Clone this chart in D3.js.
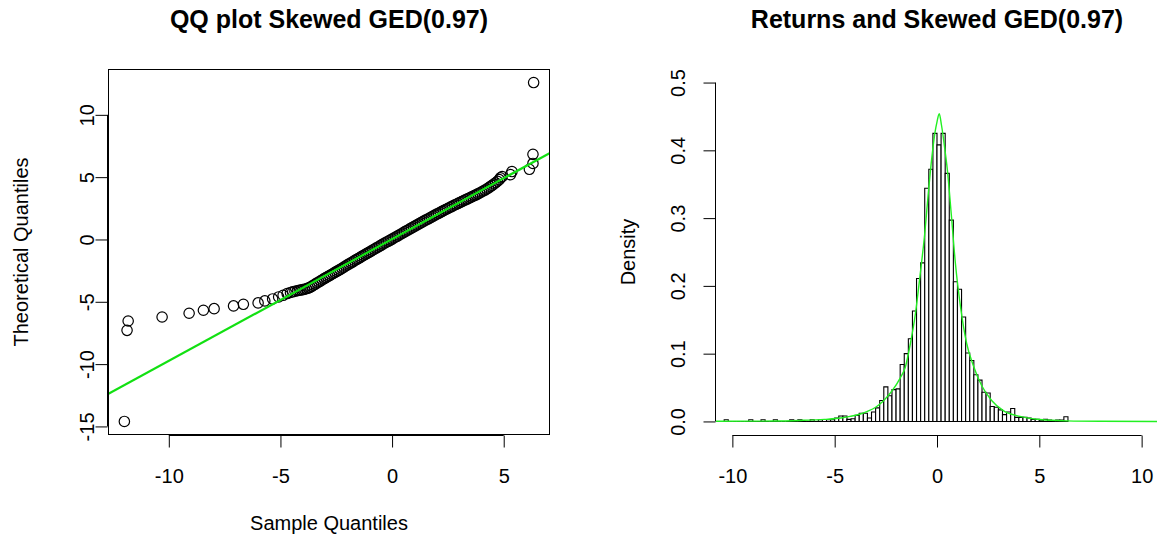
<!DOCTYPE html>
<html><head><meta charset="utf-8">
<script src="https://cdn.jsdelivr.net/npm/d3@7"></script>
<style>
body{margin:0;background:#fff}
svg{display:block}
text{font-family:"Liberation Sans",Arial,Helvetica,sans-serif;fill:#000}
</style>
</head><body>
<svg id="c" width="1157" height="539"></svg>
<script>
// ---------------- data ----------------
const sampleQ = [-11.99,-11.87,-11.82,-10.3,-9.09,-8.45,-7.97,-7.1,-6.66,-6.0,-5.7,-5.35,-5.08,-4.88,-4.7,-4.55,-4.45,-4.35,
-4.24,-4.16,-4.08,-4.00,-3.92,-3.84,-3.76,-3.68,-3.60,-3.52,-3.44,-3.36,-3.28,-3.20,-3.12,-3.04,-2.96,-2.88,-2.80,-2.72,-2.64,-2.56,-2.48,-2.40,-2.32,-2.24,-2.16,-2.08,-2.00,-1.92,-1.84,-1.76,-1.68,-1.60,-1.52,-1.44,-1.36,-1.28,-1.20,-1.12,-1.04,-0.96,-0.88,-0.80,-0.72,-0.64,-0.56,-0.48,-0.40,-0.32,-0.24,-0.16,-0.08,0.00,0.08,0.16,0.24,0.32,0.40,0.48,0.56,0.64,0.72,0.80,0.88,0.96,1.04,1.12,1.20,1.28,1.36,1.44,1.52,1.60,1.68,1.76,1.84,1.92,2.00,2.08,2.16,2.24,2.32,2.40,2.48,2.56,2.64,2.72,2.80,2.88,2.96,3.04,3.12,3.20,3.28,3.36,3.44,3.52,3.60,3.68,3.76,3.84,3.92,4.00,4.08,4.16,4.24,4.32,4.40,4.48,4.56,4.64,4.72,
4.80,4.85,4.93,5.30,5.37,6.15,6.31,6.31,6.34];
const theoQ = [-14.6,-7.29,-6.54,-6.22,-5.92,-5.68,-5.55,-5.33,-5.2,-5.09,-4.93,-4.77,-4.61,-4.48,-4.34,-4.25,-4.2,-4.15,
-4.11,-4.07,-4.05,-4.02,-3.99,-3.95,-3.90,-3.84,-3.76,-3.67,-3.58,-3.49,-3.41,-3.32,-3.23,-3.14,-3.06,-2.97,-2.90,-2.81,-2.73,-2.64,-2.56,-2.48,-2.40,-2.31,-2.22,-2.13,-2.04,-1.96,-1.87,-1.79,-1.70,-1.61,-1.54,-1.45,-1.36,-1.28,-1.19,-1.11,-1.03,-0.95,-0.86,-0.78,-0.69,-0.62,-0.53,-0.45,-0.36,-0.28,-0.20,-0.13,-0.05,0.03,0.12,0.20,0.27,0.36,0.44,0.52,0.61,0.69,0.76,0.85,0.93,1.01,1.09,1.17,1.25,1.33,1.41,1.49,1.57,1.64,1.72,1.80,1.88,1.96,2.03,2.10,2.18,2.26,2.33,2.41,2.47,2.55,2.62,2.69,2.77,2.83,2.90,2.97,3.04,3.11,3.18,3.24,3.31,3.38,3.45,3.52,3.58,3.66,3.73,3.81,3.89,3.96,4.05,4.14,4.24,4.34,4.45,4.55,4.67,
4.80,4.95,5.05,5.20,5.45,5.63,6.10,6.83,12.59];
const qqIntercept = 0.03;
const qqSlope = 0.977;

const binWidth = 0.2;
const binLeft = [-12.0,-11.8,-11.6,-11.4,-11.2,-11.0,-10.8,-10.6,-10.4,-10.2,-10.0,-9.8,-9.6,-9.4,-9.2,-9.0,-8.8,-8.6,-8.4,-8.2,
-8.0,-7.8,-7.6,-7.4,-7.2,-7.0,-6.8,-6.6,-6.4,-6.2,-6.0,-5.8,-5.6,-5.4,-5.2,-5.0,-4.8,-4.6,-4.4,-4.2,
-4.0,-3.8,-3.6,-3.4,-3.2,-3.0,-2.8,-2.6,-2.4,-2.2,-2.0,-1.8,-1.6,-1.4,-1.2,-1.0,-0.8,-0.6,-0.4,-0.2,
0.0,0.2,0.4,0.6,0.8,1.0,1.2,1.4,1.6,1.8,2.0,2.2,2.4,2.6,2.8,3.0,3.2,3.4,3.6,3.8,
4.0,4.2,4.4,4.6,4.8,5.0,5.2,5.4,5.6,5.8,6.0,6.2];
const density = [0.007,0,0,0,0,0,0,0,0.0024,0,0,0,0,0,0.0024,0,0,0.0024,0,0,
0.0024,0,0,0,0.0024,0,0.0024,0,0,0.0024,0,0.0024,0,0.0024,0.0024,0.005,0.008,0.008,0.003,0.004,
0.009,0.012,0.012,0.005,0.014,0.020,0.031,0.051,0.038,0.047,0.048,0.084,0.100,0.122,0.163,0.211,0.234,0.344,0.372,0.425,
0.408,0.425,0.366,0.297,0.206,0.195,0.154,0.101,0.090,0.069,0.061,0.043,0.042,0.022,0.021,0.017,0.010,0.014,0.019,0.006,
0.006,0.006,0.005,0.003,0.003,0.002,0.003,0.002,0,0.002,0.002,0.007];

const curveX = [-10.8,-8.0,-6.7,-5.5,-4.7,-4.25,-3.75,-3.4,-3.0,-2.6,-2.2,-1.8,-1.55,-1.3,-1.05,-0.83,-0.6,-0.4,-0.25,-0.1,0.0,0.11,0.22,0.39,0.5,0.7,0.9,1.15,1.45,1.77,2.18,2.67,3.24,4.05,5.03,6.34,8.0,10.8];
const curveY = [0.0002,0.0006,0.0015,0.003,0.005,0.0075,0.011,0.015,0.021,0.031,0.045,0.064,0.08,0.115,0.16,0.215,0.277,0.345,0.39,0.426,0.442,0.454,0.437,0.4,0.373,0.305,0.233,0.169,0.115,0.083,0.053,0.031,0.016,0.0074,0.0028,0.0008,0.0002,0.0];

const qqXTicks = [-10,-5,0,5];
const qqYTicks = [-15,-10,-5,0,5,10];
const histXTicks = [-10,-5,0,5,10];
const histYTicks = [0,0.1,0.2,0.3,0.4,0.5];
const qqTitle = "QQ plot Skewed GED(0.97)";
const histTitle = "Returns and Skewed GED(0.97)";
const qqXLab = "Sample Quantiles";
const qqYLab = "Theoretical Quantiles";
const histYLab = "Density";

// ---------------- layout ----------------
const svg = d3.select("#c");
const PL = {x0:108, x1:550, y0:69, y1:435};
const PR = {x0:716, x1:1158, y0:69, y1:435};
const ext = (a,b) => { const r=b-a; return [a-0.04*r, b+0.04*r]; };
const FONT = 20, TITLE = 25, TICK = 12;
const intFmt = d => String(d);            // plain hyphen-minus, as in R
const decFmt = d => d.toFixed(1);

const xL = d3.scaleLinear().domain(ext(d3.min(sampleQ), d3.max(sampleQ))).range([PL.x0, PL.x1]);
const yL = d3.scaleLinear().domain(ext(d3.min(theoQ), d3.max(theoQ))).range([PL.y1, PL.y0]);
const xR = d3.scaleLinear().domain(ext(-10,10)).range([PR.x0, PR.x1]);
const yR = d3.scaleLinear().domain(ext(0,0.5)).range([PR.y1, PR.y0]);

const defs = svg.append("defs");
defs.append("clipPath").attr("id","clipL").append("rect")
  .attr("x",PL.x0).attr("y",PL.y0).attr("width",PL.x1-PL.x0).attr("height",PL.y1-PL.y0);
defs.append("clipPath").attr("id","clipR").append("rect")
  .attr("x",PR.x0).attr("y",PR.y0).attr("width",PR.x1-PR.x0).attr("height",PR.y1-PR.y0);

function bottomAxis(x, P, ticks, fmt){
  const g = svg.append("g").attr("transform",`translate(0,${P.y1+0.5})`)
    .call(d3.axisBottom(x).tickValues(ticks).tickSize(TICK).tickFormat(fmt));
  g.select(".domain").remove();
  g.append("line").attr("x1",x(ticks[0])).attr("x2",x(ticks[ticks.length-1]))
    .attr("stroke","#000");
  g.selectAll(".tick line").attr("stroke","#000");
  g.selectAll(".tick text").attr("y",47).attr("dy",null)
    .style("font-size",FONT+"px");
  g.attr("font-family",null).attr("font-size",null);
}
function leftAxis(y, P, ticks, fmt, off){
  const g = svg.append("g").attr("transform",`translate(${P.x0-0.5},0)`)
    .call(d3.axisLeft(y).tickValues(ticks).tickSize(TICK).tickFormat(fmt));
  g.select(".domain").remove();
  g.append("line").attr("y1",y(ticks[0])).attr("y2",y(ticks[ticks.length-1]))
    .attr("stroke","#000");
  g.selectAll(".tick line").attr("stroke","#000");
  g.selectAll(".tick text").attr("x",null).attr("dy","0.35em")
    .attr("text-anchor","middle")
    .attr("transform",`translate(${-off},0) rotate(-90)`)
    .style("font-size",FONT+"px");
  g.attr("font-family",null).attr("font-size",null);
}

// ---------------- left: QQ plot ----------------
svg.append("g").attr("clip-path","url(#clipL)")
  .selectAll("circle").data(d3.range(Math.min(sampleQ.length, theoQ.length)))
  .join("circle")
  .attr("cx", i => xL(sampleQ[i])).attr("cy", i => yL(theoQ[i]))
  .attr("r",5.2).attr("fill","none").attr("stroke","#000").attr("stroke-width",1.2);

const [lx0, lx1] = xL.domain();
svg.append("line").attr("clip-path","url(#clipL)")
  .attr("x1",xL(lx0)).attr("y1",yL(qqIntercept+qqSlope*lx0))
  .attr("x2",xL(lx1)).attr("y2",yL(qqIntercept+qqSlope*lx1))
  .attr("stroke","#12e012").attr("stroke-width",2.2);

svg.append("rect").attr("x",PL.x0+0.5).attr("y",PL.y0+0.5)
  .attr("width",PL.x1-PL.x0-1).attr("height",PL.y1-PL.y0-1)
  .attr("fill","none").attr("stroke","#000");

bottomAxis(xL, PL, qqXTicks, intFmt);
leftAxis(yL, PL, qqYTicks, intFmt, 21);

svg.append("text").attr("x",(PL.x0+PL.x1)/2).attr("y",28).attr("text-anchor","middle")
  .style("font-size",TITLE+"px").style("font-weight","bold").text(qqTitle);
svg.append("text").attr("x",(PL.x0+PL.x1)/2).attr("y",530).attr("text-anchor","middle")
  .style("font-size",FONT+"px").text(qqXLab);
svg.append("text").attr("transform",`translate(${PL.x0-87},${(PL.y0+PL.y1)/2}) rotate(-90)`)
  .attr("dy","0.35em").attr("text-anchor","middle")
  .style("font-size",FONT+"px").text(qqYLab);

// ---------------- right: histogram + density ----------------
svg.append("g").attr("clip-path","url(#clipR)")
  .selectAll("path").data(d3.range(binLeft.length)).join("path")
  .attr("d", i => {
    const a = xR(binLeft[i]), b = xR(binLeft[i]+binWidth), y0 = yR(0), y1 = yR(density[i]);
    return `M${a},${y0}V${y1}H${b}V${y0}Z`;
  })
  .attr("fill","#fff").attr("stroke","#000").attr("stroke-width",1.1);

svg.append("path").attr("clip-path","url(#clipR)")
  .datum(d3.range(curveX.length))
  .attr("d", d3.line().x(i => xR(curveX[i])).y(i => yR(curveY[i])).curve(d3.curveMonotoneX))
  .attr("fill","none").attr("stroke","#22f022").attr("stroke-width",1.4);

bottomAxis(xR, PR, histXTicks, intFmt);
leftAxis(yR, PR, histYTicks, decFmt, 38);

svg.append("text").attr("x",(PR.x0+PR.x1)/2).attr("y",28).attr("text-anchor","middle")
  .style("font-size",TITLE+"px").style("font-weight","bold").text(histTitle);
svg.append("text").attr("transform",`translate(${PR.x0-88},${(PR.y0+PR.y1)/2}) rotate(-90)`)
  .attr("dy","0.35em").attr("text-anchor","middle")
  .style("font-size",FONT+"px").text(histYLab);
</script>
</body></html>
